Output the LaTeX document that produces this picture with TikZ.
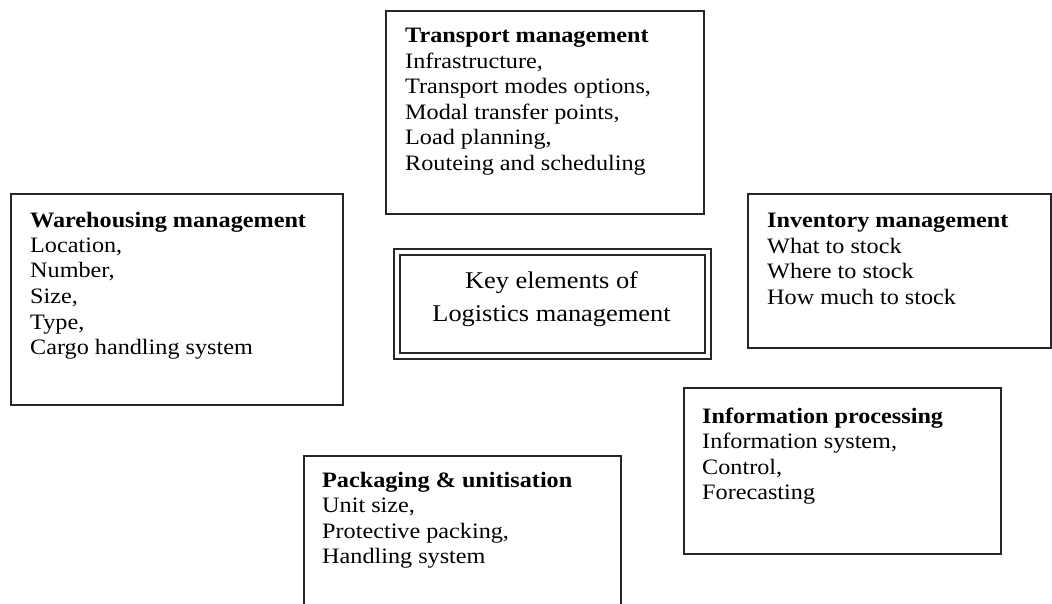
\documentclass[tikz,border=0pt]{standalone}
\usepackage{fontspec}
\setmainfont{Liberation Serif}[FakeStretch=1.1]
\newcommand\boxlines[2]{\begin{tabular}[t]{@{}l@{}}\textbf{#1}\\#2\end{tabular}}
\begin{document}
\begin{tikzpicture}[x=1pt,y=-1pt,
  frame/.style={draw=black!85, line width=1.7pt, inner sep=0pt, anchor=north west},
  lbl/.style={anchor=base west, inner sep=0pt, text=black, font=\fontsize{22}{25.5}\selectfont},
]
\useasboundingbox (0,0) rectangle (1052,604);
\clip (0,0) rectangle (1052,604);
\fill[white] (0,0) rectangle (1052,604);

% frames
\node[frame, minimum width=318pt, minimum height=203pt] (transportbox) at (385,10) {};
\node[frame, minimum width=332pt, minimum height=211pt] (warebox) at (10,193) {};
\node[frame, minimum width=317pt, minimum height=110pt] (keyouter) at (393,248) {};
\node[frame, minimum width=305pt, minimum height=98pt] (keyinner) at (399,254) {};
\node[frame, minimum width=303pt, minimum height=154pt] (invbox) at (747,193) {};
\node[frame, minimum width=317pt, minimum height=166pt] (infobox) at (683,387) {};
\node[frame, minimum width=317pt, minimum height=170pt] (packbox) at (303,455) {};

% texts
\node[lbl] (transport) at (405,43) {\boxlines{Transport management}{Infrastructure,\\Transport modes options,\\Modal transfer points,\\Load planning,\\Routeing and scheduling}};
\node[lbl] (ware) at (30,227) {\boxlines{Warehousing management}{Location,\\Number,\\Size,\\Type,\\Cargo handling system}};
\node[lbl] (inv) at (767,228) {\boxlines{Inventory management}{What to stock\\Where to stock\\How much to stock}};
\node[lbl] (info) at (702,423) {\boxlines{Information processing}{Information system,\\Control,\\Forecasting}};
\node[lbl] (pack) at (322,487) {\boxlines{Packaging \& unitisation}{Unit size,\\Protective packing,\\Handling system}};
\node[lbl, anchor=base, font=\fontsize{24}{26}\selectfont] (key) at (551.5,288) {\renewcommand\arraystretch{1.27}\begin{tabular}[t]{@{}c@{}}Key elements of\\Logistics management\end{tabular}};
\end{tikzpicture}
\end{document}
